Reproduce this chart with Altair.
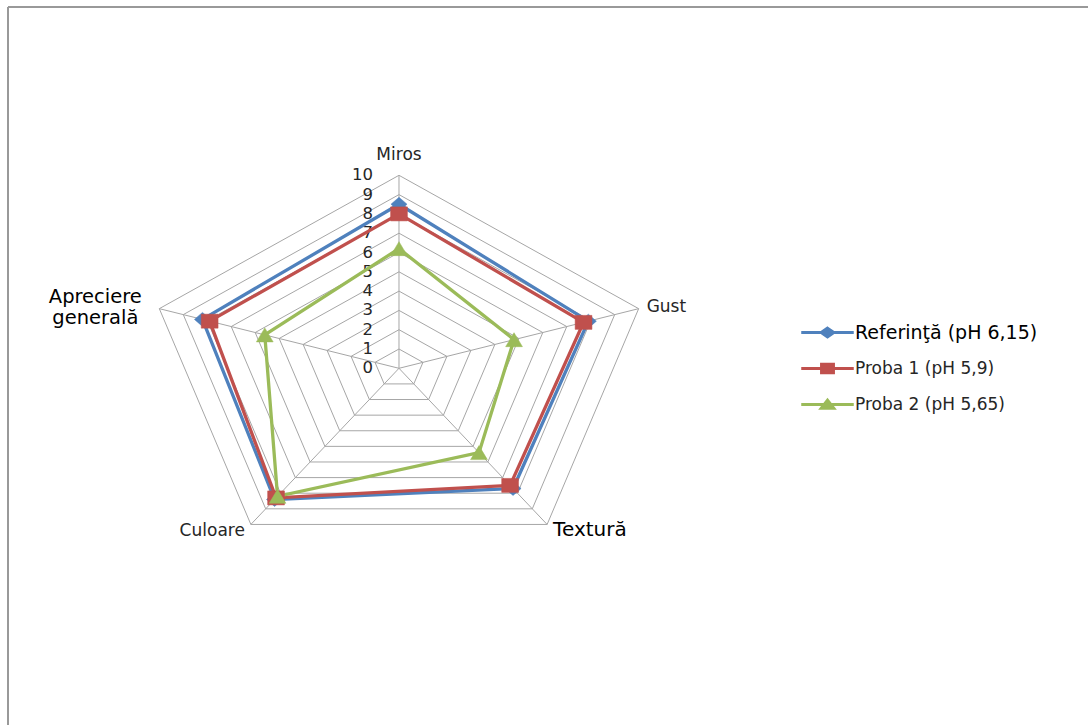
import altair as alt
import pandas as pd

# ---- data -------------------------------------------------------------
categories = ["Miros", "Gust", "Textură", "Culoare", "Apreciere generală"]
series_names = ["Referinţă (pH 6,15)", "Proba 1 (pH 5,9)", "Proba 2 (pH 5,65)"]
referinta = [8.5, 7.9, 7.7, 8.4, 8.2]
proba1 = [8.0, 7.7, 7.5, 8.3, 7.9]
proba2 = [6.2, 4.8, 5.4, 8.2, 5.6]
levels = list(range(0, 11))
series_colors = ["#4F81BD", "#C0504D", "#9BBB59"]

# ---- tables -----------------------------------------------------------
n = len(categories)
rows = []
for name, vals in zip(series_names, [referinta, proba1, proba2]):
    for pos in range(n + 1):  # last point closes the polygon
        rows.append({"series": name, "k": pos % n, "pos": pos, "v": vals[pos % n]})
series_df = pd.DataFrame(rows)

grid_df = pd.DataFrame(
    [{"level": lv, "k": pos % n, "pos": pos} for lv in levels[1:] for pos in range(n + 1)]
)
spoke_df = pd.DataFrame({"k": list(range(n)), "rmax": [levels[-1]] * n})
cat_df = pd.DataFrame({"k": list(range(n)), "cat": categories, "r": [levels[-1]] * n})
tick_df = pd.DataFrame({"level": levels, "label": [str(v) for v in levels]})

# ---- scales (x stretched relative to y) -------------------------------
xs = alt.Scale(domain=[-15.833, 27.341], nice=False, zero=False)
ys = alt.Scale(domain=[-18.482, 19.083], nice=False, zero=False)
ANG = "datum.k * 2 * PI / 5"


def xy(chart, r_field):
    return chart.transform_calculate(ang=ANG).transform_calculate(
        px=f"datum.{r_field} * sin(datum.ang)", py=f"datum.{r_field} * cos(datum.ang)"
    )


def X(f="px"):
    return alt.X(f, type="quantitative", scale=xs, axis=None)


def Y(f="py"):
    return alt.Y(f, type="quantitative", scale=ys, axis=None)


GRID = "#A6A6A6"

grid = xy(alt.Chart(grid_df), "level").mark_line(stroke=GRID, strokeWidth=1).encode(
    x=X(), y=Y(), detail="level:N", order="pos:Q"
)

spokes = (
    alt.Chart(spoke_df)
    .transform_calculate(ang=ANG)
    .transform_calculate(
        x0="0", y0="0", x1="datum.rmax * sin(datum.ang)", y1="datum.rmax * cos(datum.ang)"
    )
    .mark_rule(stroke=GRID, strokeWidth=1)
    .encode(x=X("x0"), y=Y("y0"), x2="x1:Q", y2="y1:Q")
)

ticks = (
    alt.Chart(tick_df)
    .transform_calculate(px="0")
    .mark_text(align="right", baseline="middle", dx=-26, font="DejaVu Sans",
               fontSize=16.5, color="#262626")
    .encode(x=X(), y=Y("level"), text="label:N")
)

# category labels, each placed just outside its outer vertex
label_style = {
    "Miros": dict(align="center", dx=0, dy=-20, fontSize=17, color="#262626"),
    "Gust": dict(align="left", dx=8, dy=-2, fontSize=17, color="#262626"),
    "Textură": dict(align="left", dx=6, dy=6, fontSize=20, color="#000000"),
    "Culoare": dict(align="right", dx=-6, dy=7, fontSize=17, color="#262626"),
    "Apreciere generală": dict(align="center", dx=-64, dy=-12, fontSize=19.5,
                               color="#000000", lineHeight=21),
}
cat_layers = []
for cat in categories:
    st = label_style[cat]
    text = alt.value(cat.split(" ")) if " " in cat else alt.Text("cat:N")
    cat_layers.append(
        xy(alt.Chart(cat_df), "r")
        .transform_filter(alt.datum.cat == cat)
        .mark_text(baseline="middle", font="DejaVu Sans", **st)
        .encode(x=X(), y=Y(), text=text)
    )

# ---- legend: line segment with the series marker ----------------------
legend_paths = [
    "M-3.75,0H3.75M0,-0.62L0.9,0L0,0.62L-0.9,0Z",
    "M-3.75,0H3.75M-0.85,-0.6H0.85V0.6H-0.85Z",
    "M-3.75,0H3.75M0,-0.62L0.9,0.55L-0.9,0.55Z",
]


def per_series(values):
    expr = f"'{values[-1]}'"
    for name, val in reversed(list(zip(series_names[:-1], values[:-1]))):
        expr = f"datum.value == '{name}' ? '{val}' : {expr}"
    return {"expr": expr}


def per_series_num(values):
    expr = f"{values[-1]}"
    for name, val in reversed(list(zip(series_names[:-1], values[:-1]))):
        expr = f"datum.value == '{name}' ? {val} : {expr}"
    return {"expr": expr}


leg = alt.Legend(
    title=None,
    orient="none",
    legendX=819,
    legendY=324,
    direction="vertical",
    padding=0,
    symbolType=per_series(legend_paths),
    symbolSize=196,
    symbolStrokeWidth=3,
    symbolFillColor=per_series(series_colors),
    symbolStrokeColor=per_series(series_colors),
    labelFont="DejaVu Sans",
    labelFontSize=per_series_num([19, 17, 17]),
    labelColor=per_series(["#000000", "#262626", "#262626"]),
    labelOffset=19,
    labelLimit=400,
    rowPadding=15,
)

color_scale = alt.Scale(domain=series_names, range=series_colors)

# marker shape per series (slightly wider than tall)
marker_paths = [
    "M0,-1L1.15,0L0,1L-1.15,0Z",
    "M-1.2,-1H1.2V1H-1.2Z",
    "M0,-1L1.2,1L-1.2,1Z",
]

lines = xy(alt.Chart(series_df), "v").mark_line(strokeWidth=3.3).encode(
    x=X(), y=Y(),
    stroke=alt.Stroke("series:N", scale=color_scale, legend=leg, sort=series_names),
    order="pos:Q",
)

point_layers = []
for name, path in zip(series_names, marker_paths):
    point_layers.append(
        xy(alt.Chart(series_df), "v")
        .transform_filter(f"datum.pos < {n}")
        .transform_filter(alt.datum.series == name)
        .mark_point(filled=True, size=196, strokeWidth=0.5, opacity=1, shape=path)
        .encode(
            x=X(), y=Y(),
            fill=alt.Fill("series:N", scale=color_scale, legend=None),
            stroke=alt.Stroke("series:N", scale=color_scale, legend=None),
        )
    )

# outer chart frame (left and top edges)
frame_src = alt.Chart(pd.DataFrame({"a": [0]}))
frame_left = frame_src.mark_rule(stroke="#999999", strokeWidth=2).encode(
    x=alt.value(8), y=alt.value(7), y2=alt.value(725)
)
frame_top = frame_src.mark_rule(stroke="#999999", strokeWidth=2).encode(
    x=alt.value(8), x2=alt.value(1088), y=alt.value(7)
)

chart = (
    alt.layer(frame_left, frame_top, grid, spokes, ticks, *cat_layers, lines, *point_layers)
    .properties(width=1088, height=725, autosize=alt.AutoSizeParams(type="none"),
                padding=0, background="white")
    .configure_view(stroke=None)
)

chart.save("out.html", embed_options={"renderer": "svg", "actions": False})
